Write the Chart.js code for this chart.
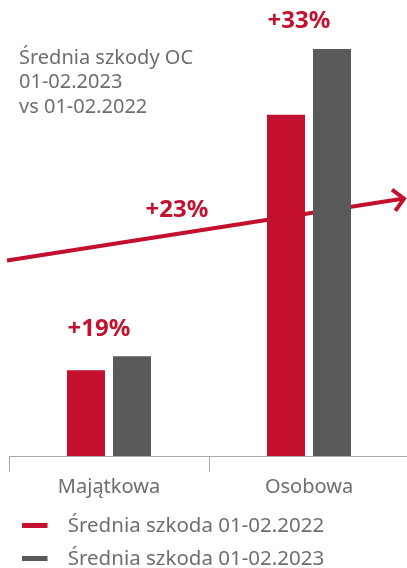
<!DOCTYPE html>
<html>
<head>
<meta charset="utf-8">
<script src="https://cdn.jsdelivr.net/npm/chart.js@4/dist/chart.umd.min.js"></script>
<style>
  html, body { margin: 0; padding: 0; background: #fff; overflow: hidden; }
  #frame { width: 407px; height: 568px; overflow: hidden; position: relative; }
  #wrap { width: 409px; height: 579px; position: relative; }
</style>
</head>
<body>
<div id="frame"><div id="wrap"><canvas id="chart"></canvas></div></div>
<script>
// dane
const categories = ["Majątkowa", "Osobowa"];
const seriesLabels = ["Średnia szkoda 01-02.2022", "Średnia szkoda 01-02.2023"];
const values2022 = [86, 342];
const values2023 = [100, 408];
const changeLabels = ["+19%", "+33%"];
const trendValues = [196, 258];
const trendLabel = "+23%";
const titleLines = ["Średnia szkody OC", "01-02.2023", "vs 01-02.2022"];

const RED = "#c3102f";
const GRAY = "#58595b";
const TEXT = "#6d6e71";
const AXIS = "#a7a9ac";
const FONT = "'Noto Sans', sans-serif";

// znacznik legendy: kreska z odstępem po prawej
function lineMarker(color) {
    const c = document.createElement("canvas");
    c.width = 36;
    c.height = 5;
    const g = c.getContext("2d");
    g.fillStyle = color;
    g.fillRect(0, 0, 26, 5);
    return c;
}
const markers = [lineMarker(RED), lineMarker(GRAY)];

const overlay = {
    id: "overlay",
    beforeDatasetsDraw(chart) {
        // strzałka trendu (pod słupkami)
        const { ctx, chartArea: a, scales: { y } } = chart;
        const x0 = a.left - 2, x1 = 404;
        const y0 = y.getPixelForValue(trendValues[0]);
        const y1 = y.getPixelForValue(trendValues[1]);
        ctx.save();
        ctx.strokeStyle = RED;
        ctx.lineWidth = 4;
        ctx.beginPath();
        ctx.moveTo(x0, y0);
        ctx.lineTo(x1, y1);
        ctx.stroke();
        const back = Math.atan2(y0 - y1, x0 - x1);
        const len = 15;
        ctx.beginPath();
        ctx.moveTo(x1 + len * Math.cos(back + 0.8), y1 + len * Math.sin(back + 0.8));
        ctx.lineTo(x1, y1);
        ctx.lineTo(x1 + len * Math.cos(back - 0.8), y1 + len * Math.sin(back - 0.8));
        ctx.stroke();
        ctx.restore();
    },
    afterDraw(chart) {
        const { ctx, chartArea: a, scales: { y } } = chart;
        ctx.save();
        // tytuł
        ctx.font = "20px " + FONT;
        ctx.fillStyle = TEXT;
        ctx.textAlign = "left";
        ctx.textBaseline = "middle";
        titleLines.forEach((t, i) => ctx.fillText(t, 19, a.top + 58 + i * 24.5));

        // etykiety zmian nad słupkami
        ctx.font = "bold 24px " + FONT;
        ctx.fillStyle = RED;
        ctx.textAlign = "center";
        const m0 = chart.getDatasetMeta(0), m1 = chart.getDatasetMeta(1);
        changeLabels.forEach((t, i) => {
            const b0 = m0.data[i], b1 = m1.data[i];
            const cx = (b0.x + b1.x) / 2 - 10;
            ctx.fillText(t, cx, Math.min(b0.y, b1.y) - 27.5);
        });

        // etykieta trendu
        const tx = a.left + 0.42 * (a.right - a.left);
        const ty = y.getPixelForValue(trendValues[0] + 0.42 * (trendValues[1] - trendValues[0]));
        ctx.fillText(trendLabel, tx, ty - 24);
        ctx.restore();
    }
};

new Chart(document.getElementById("chart"), {
    type: "bar",
    data: {
        labels: categories,
        datasets: [
            { label: seriesLabels[0], data: values2022, backgroundColor: RED },
            { label: seriesLabels[1], data: values2023, backgroundColor: GRAY },
        ],
    },
    options: {
        responsive: true,
        maintainAspectRatio: false,
        animation: false,
        categoryPercentage: 0.46,
        barPercentage: 0.826,
        layout: { padding: { left: 9, right: 0, top: 0, bottom: 0 } },
        plugins: {
            tooltip: { enabled: false },
            legend: {
                position: "bottom",
                align: "start",
                labels: {
                    usePointStyle: true,
                    pointStyleWidth: 36,
                    boxHeight: 5,
                    padding: 12.5,
                    color: TEXT,
                    font: { family: FONT, size: 20.5 },
                    generateLabels(chart) {
                        const items = Chart.defaults.plugins.legend.labels.generateLabels(chart);
                        items.forEach((it, i) => { it.pointStyle = markers[i]; });
                        return items;
                    },
                },
            },
        },
        scales: {
            x: {
                offset: true,
                grid: { offset: true, drawOnChartArea: false, tickLength: 16, color: AXIS, lineWidth: 1 },
                border: { display: true, color: AXIS, width: 1 },
                ticks: { color: TEXT, font: { family: FONT, size: 20 }, padding: 3.5 },
            },
            y: { display: false, min: 0, max: 457 },
        },
    },
    plugins: [overlay],
});
</script>
</body>
</html>
